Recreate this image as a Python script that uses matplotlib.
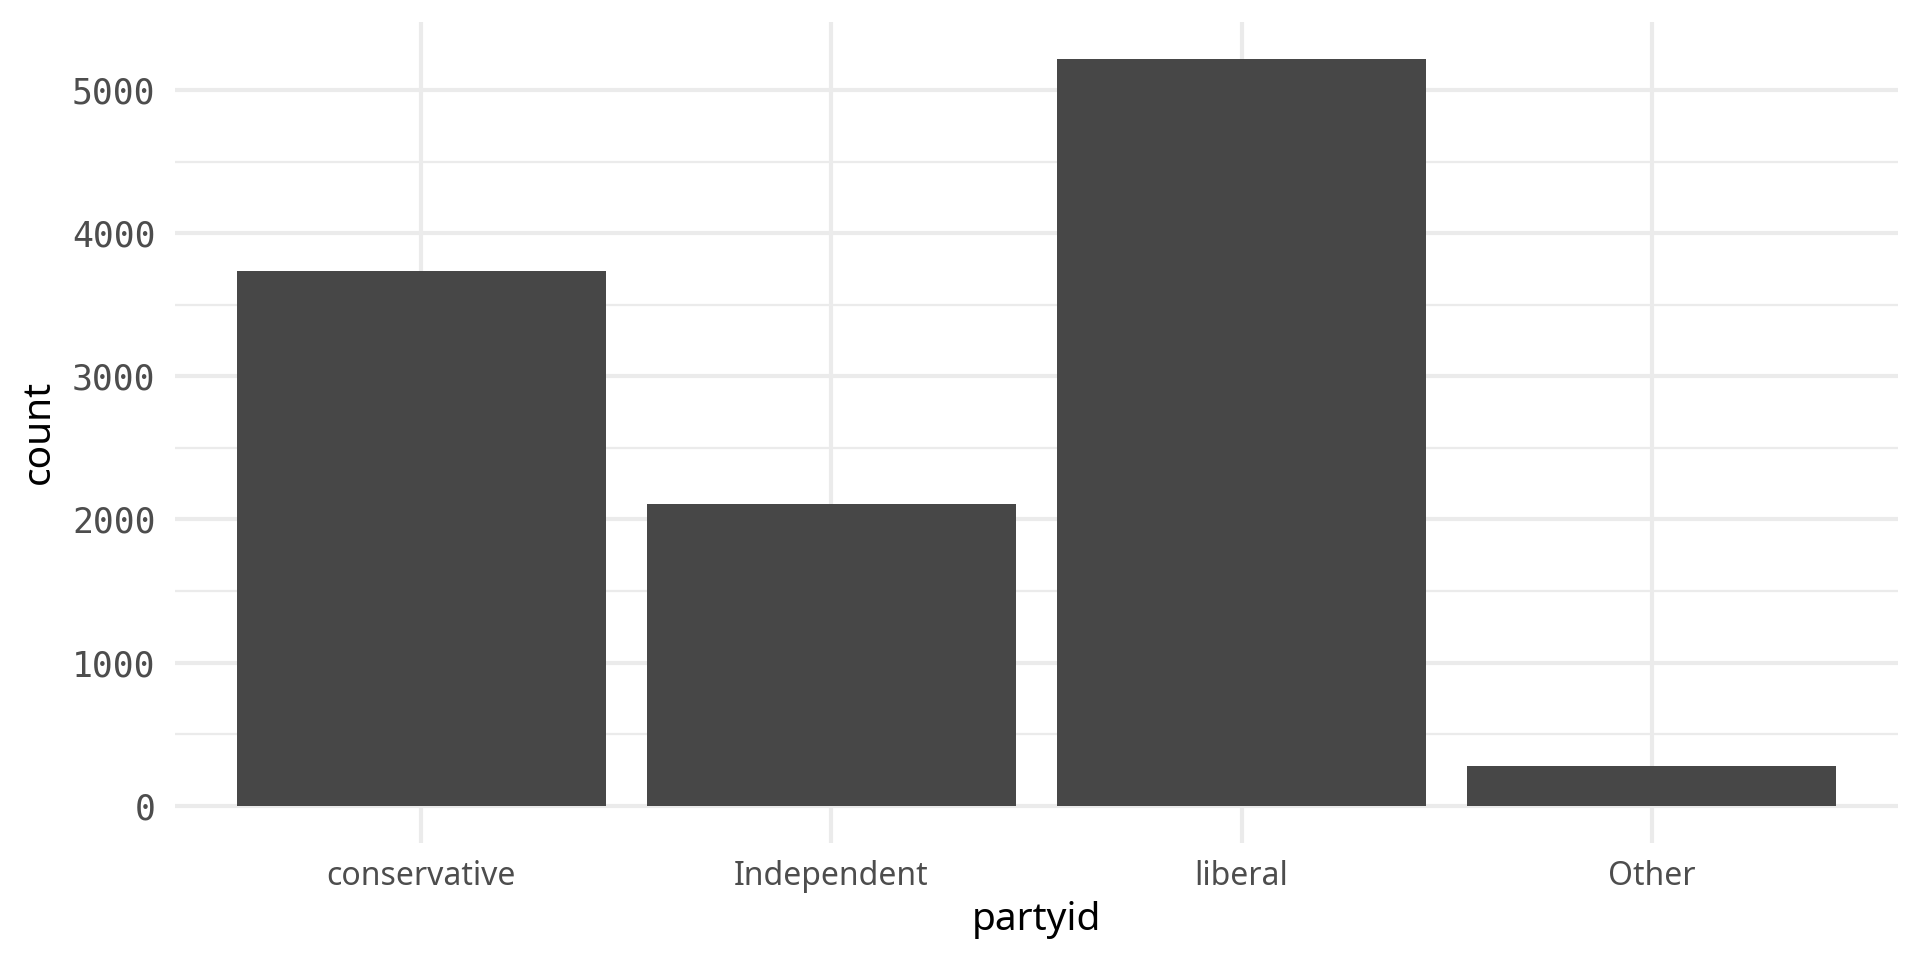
import matplotlib
matplotlib.use("Agg")
import matplotlib.pyplot as plt
from matplotlib.ticker import MultipleLocator

categories = ["conservative", "Independent", "liberal", "Other"]
counts = [3735, 2107, 5218, 274]
y_ticks = [0, 1000, 2000, 3000, 4000, 5000]
x_title = "partyid"
y_title = "count"

plt.rcParams['font.family'] = ['Noto Sans', 'DejaVu Sans']

fig = plt.figure(figsize=(19.2, 9.6), dpi=100)
ax = fig.add_axes([175/1920, 1 - 843/960, (1898-175)/1920, (843-21.6)/960])

xs = list(range(1, len(categories) + 1))
ax.bar(xs, counts, width=0.9, color="#474747", linewidth=0, zorder=3)

ymax = max(counts)
ax.set_xlim(0.4, len(categories) + 0.6)
ax.set_ylim(-0.05 * ymax, 1.05 * ymax)

ax.set_xticks(xs)
ax.set_xticklabels(categories)
ax.set_yticks(y_ticks)
ax.set_yticklabels([str(v) for v in y_ticks], family=['DejaVu Sans Mono'])
ax.yaxis.set_minor_locator(MultipleLocator(500))

for s in ax.spines.values():
    s.set_visible(False)

ax.grid(True, which="major", color="#EBEBEB", linewidth=3.0, zorder=0)
ax.grid(True, which="minor", axis="y", color="#EBEBEB", linewidth=1.6, zorder=0)
ax.tick_params(axis="both", which="both", length=0)
ax.tick_params(axis="x", labelsize=23, labelcolor="#4D4D4D", pad=12)
ax.tick_params(axis="y", labelsize=25, labelcolor="#4D4D4D", pad=14)

ax.set_xlabel(x_title, fontsize=28, color="black", labelpad=6)
ax.set_ylabel(y_title, fontsize=28, color="black", labelpad=10)

fig.savefig("out.png", dpi=100, facecolor="white")
